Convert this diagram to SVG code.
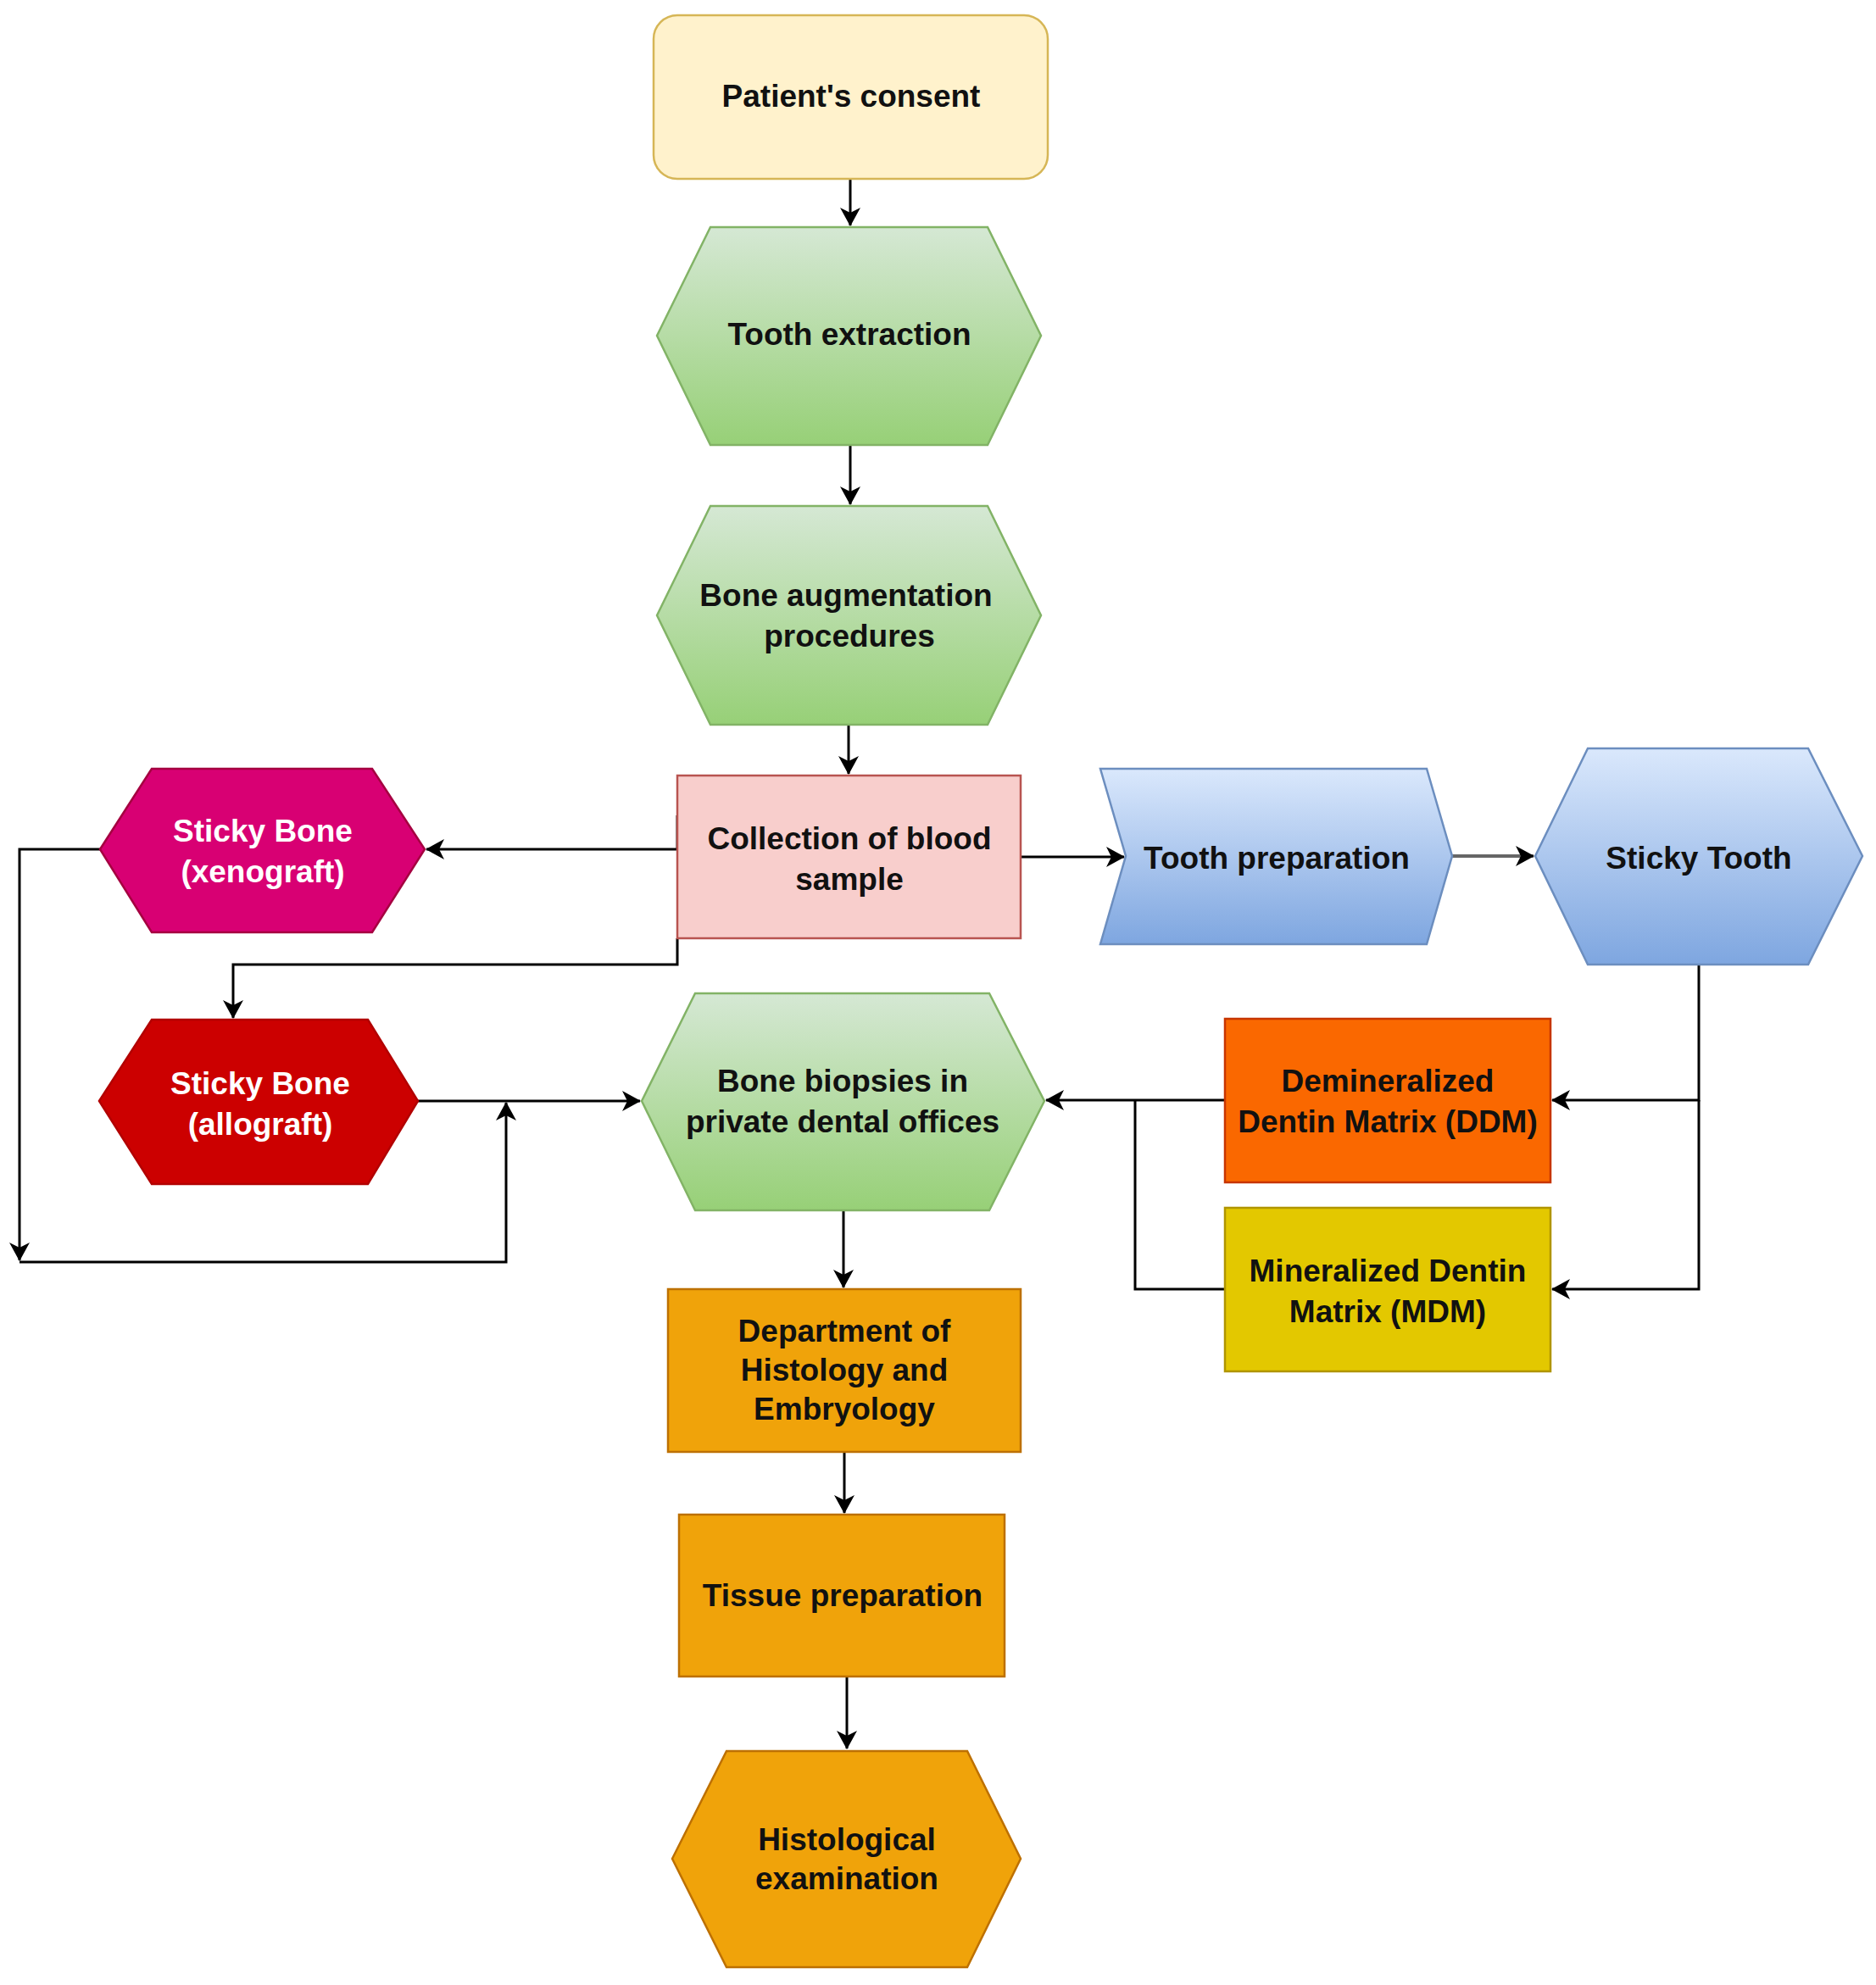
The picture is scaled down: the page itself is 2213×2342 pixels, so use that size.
<svg xmlns="http://www.w3.org/2000/svg" width="2213" height="2342" viewBox="0 0 2213 2342">
<defs>
<style>
text{font-family:"Liberation Sans",Arial,sans-serif;font-weight:bold;font-size:37px;text-anchor:middle;dominant-baseline:central;fill:#111}
.w{fill:#fff}
.e{fill:none;stroke:#000;stroke-width:3}
.g{fill:none;stroke:#666;stroke-width:4}
.green{fill:url(#gg);stroke:#82b366;stroke-width:2.5}
.blue{fill:url(#bg);stroke:#6c8ebf;stroke-width:2.5}
.orng{fill:#f0a30a;stroke:#bd7000;stroke-width:2.5}
</style>
<linearGradient id="gg" x1="0" y1="0" x2="0" y2="1"><stop offset="0" stop-color="#d5e8d4"/><stop offset="1" stop-color="#97d077"/></linearGradient>
<linearGradient id="bg" x1="0" y1="0" x2="0" y2="1"><stop offset="0" stop-color="#dae8fc"/><stop offset="1" stop-color="#7ea6e0"/></linearGradient>
<marker id="a" viewBox="0 0 22 24" refX="21" refY="12" markerWidth="22" markerHeight="24" markerUnits="userSpaceOnUse" orient="auto"><path d="M0,0 L22,12 L0,24 L6,12 Z" fill="#000"/></marker>
</defs>
<g id="connectors">
<path class="e" d="M1003 211 V266" marker-end="url(#a)"/>
<path class="e" d="M1003 525 V595" marker-end="url(#a)"/>
<path class="e" d="M1001 855 V913" marker-end="url(#a)"/>
<path class="e" d="M799 962 V1002 H503" marker-end="url(#a)"/>
<path class="e" d="M799 1107 V1138 H275 V1201" marker-end="url(#a)"/>
<path class="e" d="M118 1002 H23 V1487" marker-end="url(#a)"/>
<path class="e" d="M23 1489 H597 V1301" marker-end="url(#a)"/>
<path class="e" d="M493 1299 H755" marker-end="url(#a)"/>
<path class="e" d="M1204 1011 H1326" marker-end="url(#a)"/>
<path class="g" d="M1713 1010 H1809" marker-end="url(#a)"/>
<path class="e" d="M2004 1138 V1298 H1831" marker-end="url(#a)"/>
<path class="e" d="M2004 1298 V1521 H1831" marker-end="url(#a)"/>
<path class="e" d="M1445 1298 H1234" marker-end="url(#a)"/>
<path class="e" d="M1445 1521 H1339 V1298"/>
<path class="e" d="M995 1428 V1519" marker-end="url(#a)"/>
<path class="e" d="M996 1713 V1785" marker-end="url(#a)"/>
<path class="e" d="M999 1978 V2063" marker-end="url(#a)"/>
</g>
<g id="consent"><rect x="771" y="18" width="465" height="193" rx="28" fill="#fff2cc" stroke="#d6b656" stroke-width="2.5"/><text x="1004" y="113">Patient's consent</text></g>
<g id="extraction"><polygon class="green" points="775,396 838,268 1165,268 1228,396 1165,525 838,525"/><text x="1002" y="394">Tooth extraction</text></g>
<g id="augmentation"><polygon class="green" points="775,726 838,597 1165,597 1228,726 1165,855 838,855"/><text x="998" y="702">Bone augmentation</text><text x="1002" y="750">procedures</text></g>
<g id="blood"><rect x="799" y="915" width="405" height="192" fill="#f8cecc" stroke="#b85450" stroke-width="2.5"/><text x="1002" y="989">Collection of blood</text><text x="1002" y="1037">sample</text></g>
<g id="toothprep"><polygon class="blue" points="1298,907 1683,907 1713,1010 1683,1114 1298,1114 1328,1010"/><text x="1506" y="1012">Tooth preparation</text></g>
<g id="stickytooth"><polygon class="blue" points="1811,1010 1873,883 2133,883 2197,1010 2133,1138 1873,1138"/><text x="2004" y="1012">Sticky Tooth</text></g>
<g id="xenograft"><polygon points="118,1002 179,907 439,907 501,1002 439,1100 179,1100" fill="#d80073" stroke="#a50040" stroke-width="2.5"/><text class="w" x="310" y="980">Sticky Bone</text><text class="w" x="310" y="1028">(xenograft)</text></g>
<g id="allograft"><polygon points="117,1299 179,1203 434,1203 493,1299 434,1397 179,1397" fill="#cc0000" stroke="#b20000" stroke-width="2.5"/><text class="w" x="307" y="1278">Sticky Bone</text><text class="w" x="307" y="1326">(allograft)</text></g>
<g id="biopsies"><polygon class="green" points="757,1299 820,1172 1167,1172 1232,1299 1167,1428 820,1428"/><text x="994" y="1275">Bone biopsies in</text><text x="994" y="1323">private dental offices</text></g>
<g id="ddm"><rect x="1445" y="1202" width="384" height="193" fill="#fa6800" stroke="#c73500" stroke-width="2.5"/><text x="1637" y="1275">Demineralized</text><text x="1637" y="1323">Dentin Matrix (DDM)</text></g>
<g id="mdm"><rect x="1445" y="1425" width="384" height="193" fill="#e3c800" stroke="#b09500" stroke-width="2.5"/><text x="1637" y="1499">Mineralized Dentin</text><text x="1637" y="1547">Matrix (MDM)</text></g>
<g id="department"><rect class="orng" x="788" y="1521" width="416" height="192"/><text x="996" y="1570">Department of</text><text x="996" y="1616">Histology and</text><text x="996" y="1662">Embryology</text></g>
<g id="tissue"><rect class="orng" x="801" y="1787" width="384" height="191"/><text x="994" y="1882">Tissue preparation</text></g>
<g id="histological"><polygon class="orng" points="793,2193 857,2066 1141,2066 1204,2193 1141,2321 857,2321"/><text x="999" y="2170">Histological</text><text x="999" y="2216">examination</text></g>
</svg>
